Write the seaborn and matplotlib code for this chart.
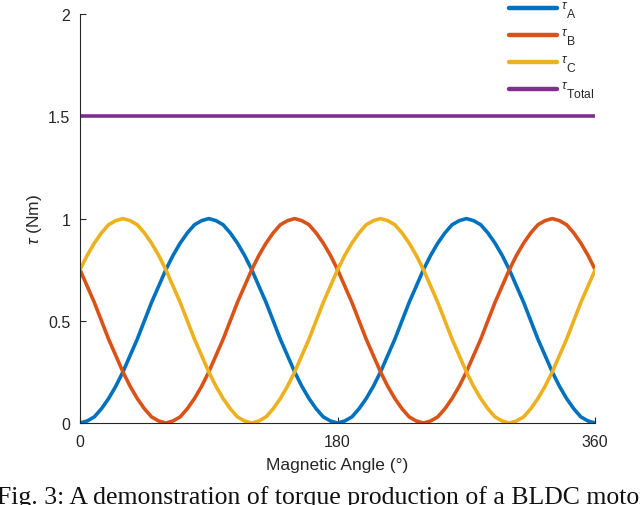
import matplotlib
matplotlib.use("Agg")
import matplotlib.pyplot as plt
import pandas as pd
import seaborn as sns

# magnetic angle samples (degrees), 5 degree steps
angle = list(range(0, 361, 5))

tau_a = [
    0.00, 0.01, 0.03, 0.07, 0.12, 0.18, 0.25, 0.33, 0.41, 0.50, 0.59, 0.67, 0.75,
    0.82, 0.88, 0.93, 0.97, 0.99, 1.00, 0.99, 0.97, 0.93, 0.88, 0.82, 0.75, 0.67,
    0.59, 0.50, 0.41, 0.33, 0.25, 0.18, 0.12, 0.07, 0.03, 0.01, 0.00,
    0.01, 0.03, 0.07, 0.12, 0.18, 0.25, 0.33, 0.41, 0.50, 0.59, 0.67, 0.75,
    0.82, 0.88, 0.93, 0.97, 0.99, 1.00, 0.99, 0.97, 0.93, 0.88, 0.82, 0.75, 0.67,
    0.59, 0.50, 0.41, 0.33, 0.25, 0.18, 0.12, 0.07, 0.03, 0.01, 0.00,
]
tau_b = [
    0.75, 0.67, 0.59, 0.50, 0.41, 0.33, 0.25, 0.18, 0.12, 0.07, 0.03, 0.01, 0.00,
    0.01, 0.03, 0.07, 0.12, 0.18, 0.25, 0.33, 0.41, 0.50, 0.59, 0.67, 0.75, 0.82,
    0.88, 0.93, 0.97, 0.99, 1.00,
    0.99, 0.97, 0.93, 0.88, 0.82, 0.75, 0.67, 0.59, 0.50, 0.41, 0.33, 0.25, 0.18,
    0.12, 0.07, 0.03, 0.01, 0.00,
    0.01, 0.03, 0.07, 0.12, 0.18, 0.25, 0.33, 0.41, 0.50, 0.59, 0.67, 0.75, 0.82,
    0.88, 0.93, 0.97, 0.99, 1.00,
    0.99, 0.97, 0.93, 0.88, 0.82, 0.75,
]
tau_c = [
    0.75, 0.82, 0.88, 0.93, 0.97, 0.99, 1.00,
    0.99, 0.97, 0.93, 0.88, 0.82, 0.75, 0.67, 0.59, 0.50, 0.41, 0.33, 0.25, 0.18,
    0.12, 0.07, 0.03, 0.01, 0.00,
    0.01, 0.03, 0.07, 0.12, 0.18, 0.25, 0.33, 0.41, 0.50, 0.59, 0.67, 0.75, 0.82,
    0.88, 0.93, 0.97, 0.99, 1.00,
    0.99, 0.97, 0.93, 0.88, 0.82, 0.75, 0.67, 0.59, 0.50, 0.41, 0.33, 0.25, 0.18,
    0.12, 0.07, 0.03, 0.01, 0.00,
    0.01, 0.03, 0.07, 0.12, 0.18, 0.25, 0.33, 0.41, 0.50, 0.59, 0.67, 0.75,
]
tau_total = [1.5] * len(angle)

# MATLAB-style tex labels: small tau, then the subscript
series_names = [r"${}^{\tau}{}_{\mathrm{A}}$", r"${}^{\tau}{}_{\mathrm{B}}$",
                r"${}^{\tau}{}_{\mathrm{C}}$", r"${}^{\tau}{}_{\mathrm{Total}}$"]
series_colors = ["#0072BD", "#D95319", "#EDB120", "#7E2F8E"]

x_ticks = [0, 180, 360]
y_ticks = [0, 0.5, 1, 1.5, 2]
y_tick_labels = ["0", "0.5", "1", "1.5", "2"]

frames = []
for name, vals in zip(series_names, [tau_a, tau_b, tau_c, tau_total]):
    frames.append(pd.DataFrame({"angle": angle, "torque": vals, "series": name}))
df = pd.concat(frames, ignore_index=True)

sns.set_style("ticks")
plt.rcParams["font.family"] = ["Liberation Sans", "DejaVu Sans"]
plt.rcParams["mathtext.fontset"] = "custom"
plt.rcParams["mathtext.rm"] = "Liberation Sans"
plt.rcParams["mathtext.it"] = "Liberation Sans:italic"

fig = plt.figure(figsize=(6.4, 5.06), dpi=100)
ax = fig.add_axes([0.125, 0.162, 0.805, 0.808])

sns.lineplot(
    data=df, x="angle", y="torque", hue="series",
    palette=series_colors, linewidth=2.6, ax=ax, legend=True,
)

ax.set_xlim(0, 360)
ax.set_ylim(0, 2)
ax.set_xticks(x_ticks)
ax.set_xticklabels([str(t) for t in x_ticks])
ax.set_yticks(y_ticks)
ax.set_yticklabels(y_tick_labels)
ax.tick_params(direction="in", length=4, width=0.8, labelsize=11.5,
               colors="#262626")
ax.tick_params(axis="x", pad=8)
ax.tick_params(axis="y", pad=7)
ax.set_xlabel("Magnetic Angle (°)", fontsize=12.5, color="#262626", labelpad=6)
ax.set_ylabel(r"$\tau$ (Nm)", fontsize=12.5, color="#262626", labelpad=3)
sns.despine(ax=ax)
for s in ["left", "bottom"]:
    ax.spines[s].set_color("#262626")
    ax.spines[s].set_linewidth(0.8)

handles, labels = ax.get_legend_handles_labels()
for h in handles:
    h.set_linewidth(3.2)
ax.legend(handles, labels, loc="upper left", bbox_to_anchor=(0.771, 1.031),
          bbox_transform=fig.transFigure, frameon=False, fontsize=12.5,
          handlelength=2.75, labelspacing=0.36, handletextpad=0.25)

fig.text(-0.004, 0.003, "Fig. 3: A demonstration of torque production of a BLDC motor",
         family=["Liberation Serif", "DejaVu Serif"], fontsize=18.5,
         color="#111111", va="baseline")

fig.savefig("out.png", dpi=100)
